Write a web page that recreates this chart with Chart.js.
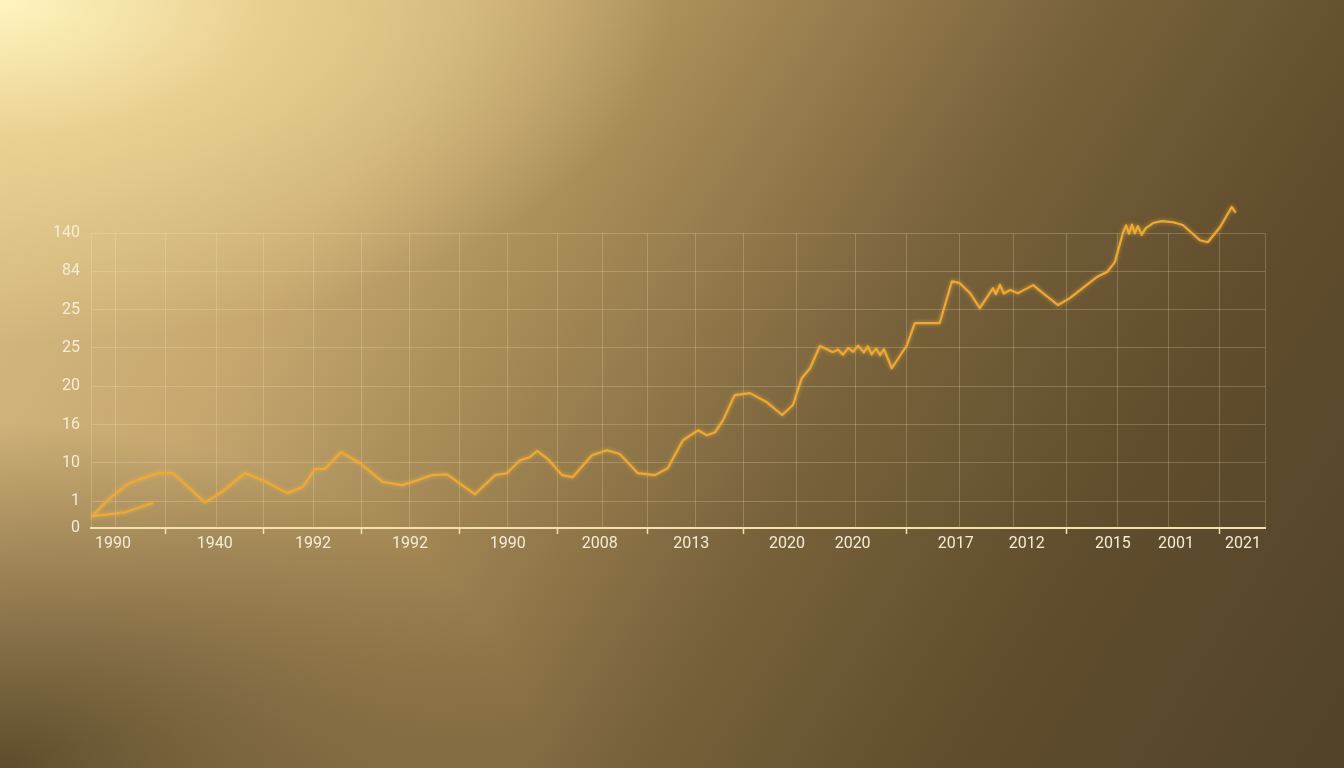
<!DOCTYPE html>
<html>
<head>
<meta charset="utf-8">
<script src="https://cdn.jsdelivr.net/npm/chart.js@4.4.1/dist/chart.umd.min.js"></script>
<style>
  html, body { margin: 0; padding: 0; overflow: hidden; }
  body {
    width: 1344px; height: 768px;
    background:
      radial-gradient(ellipse 50% 45% at 0% 0%, rgba(255,244,192,1) 0%, rgba(240,216,150,0.75) 40%, rgba(220,190,120,0) 100%),
      radial-gradient(ellipse 40% 45% at 0% 100%, rgba(68,53,28,0.8) 0%, rgba(68,53,28,0) 100%),
      linear-gradient(122deg, #dcc087 0%, #c6a86f 25%, #9f8452 43%, #78623b 60%, #604d2d 78%, #524329 100%);
  }
  #wrap { position: absolute; left: 0; top: 0; width: 1344px; height: 768px; }
</style>
</head>
<body>
<div id="wrap"><canvas id="chart"></canvas></div>
<script>
const TEXT_COLOR = "#f5ecd6";
const GRID_COLOR = "rgba(255, 238, 195, 0.22)";
const AXIS_COLOR = "#f3e2ae";
const LINE_COLOR = "#f3a82c";

// tick labels (as printed in the picture)
const yLabels = ['0', '1', '10', '16', '20', '25', '25', '84', '140'];
const yTickAt = [-0.7, 0, 1, 2, 3, 4, 5, 6, 7];
const xLabels = ['1990', '1940', '1992', '1992', '1990', '2008', '2013', '2020', '2020', '2017', '2012', '2015', '2001', '2021'];
const xLabelAt = [0.45, 2.53, 4.54, 6.52, 8.52, 10.4, 12.27, 14.23, 15.57, 17.68, 19.13, 20.89, 22.18, 23.55];
const xGridAt = [0.51, 1.53, 2.56, 3.52, 4.54, 5.54, 6.52, 7.54, 8.52, 9.53, 10.45, 11.37, 12.35, 13.33, 14.43, 15.62, 16.68, 17.76, 18.85, 19.94, 20.99, 22.02, 23.08, 24];
const xTickMarkAt = [1, 3, 5, 7, 9, 11, 13, 16, 19, 22];

// main series
const mainX = [0.02, 0.39, 0.74, 1.00, 1.35, 1.68, 2.33, 2.70, 3.15, 3.56, 4.01, 4.33, 4.58, 4.78, 5.11, 5.50, 5.97, 6.36, 6.68, 6.97, 7.28, 7.85, 8.26, 8.50, 8.77, 8.97, 9.12, 9.34, 9.63, 9.85, 10.24, 10.55, 10.81, 11.18, 11.53, 11.79, 12.10, 12.41, 12.59, 12.76, 12.92, 13.16, 13.47, 13.82, 14.13, 14.35, 14.53, 14.70, 14.90, 15.17, 15.27, 15.37, 15.48, 15.58, 15.68, 15.80, 15.88, 15.96, 16.05, 16.13, 16.21, 16.37, 16.68, 16.84, 17.11, 17.35, 17.60, 17.76, 17.97, 18.17, 18.44, 18.50, 18.58, 18.66, 18.79, 18.95, 19.26, 19.46, 19.77, 20.01, 20.56, 20.77, 20.93, 21.10, 21.16, 21.22, 21.28, 21.34, 21.40, 21.48, 21.56, 21.71, 21.89, 22.12, 22.32, 22.67, 22.83, 23.08, 23.32, 23.39];
const mainY = [-0.39, 0.08, 0.44, 0.57, 0.73, 0.73, -0.03, 0.26, 0.73, 0.52, 0.21, 0.37, 0.84, 0.84, 1.28, 0.99, 0.50, 0.42, 0.55, 0.68, 0.70, 0.18, 0.68, 0.73, 1.07, 1.15, 1.31, 1.10, 0.68, 0.63, 1.20, 1.33, 1.23, 0.73, 0.68, 0.86, 1.59, 1.85, 1.72, 1.80, 2.11, 2.77, 2.82, 2.58, 2.25, 2.51, 3.21, 3.47, 4.05, 3.89, 3.96, 3.82, 4.00, 3.90, 4.06, 3.88, 4.04, 3.83, 3.99, 3.81, 3.97, 3.47, 4.07, 4.65, 4.65, 4.65, 5.74, 5.69, 5.43, 5.04, 5.56, 5.40, 5.65, 5.42, 5.51, 5.43, 5.64, 5.43, 5.12, 5.30, 5.85, 5.98, 6.24, 7.02, 7.20, 6.98, 7.22, 6.99, 7.18, 6.95, 7.12, 7.26, 7.31, 7.28, 7.21, 6.81, 6.76, 7.15, 7.68, 7.55];

// short second series
const shortX = [0.02, 0.39, 0.70, 0.96, 1.25];
const shortY = [-0.39, -0.34, -0.29, -0.18, -0.05];

function toPoints(xs, ys) {
    return xs.map((x, i) => ({ x: x, y: ys[i] }));
}

function createDataSet(data) {
    return {
        data: data,
        borderColor: LINE_COLOR,
        borderWidth: 2.2,
        borderJoinStyle: 'round',
        borderCapStyle: 'round',
        pointRadius: 0,
        tension: 0,
        fill: false,
        clip: false
    };
}

const glow = {
    id: 'glow',
    beforeDatasetDraw(chart) {
        chart.ctx.save();
        chart.ctx.shadowColor = 'rgba(255, 200, 80, 0.6)';
        chart.ctx.shadowBlur = 4;
    },
    afterDatasetDraw(chart) {
        chart.ctx.restore();
    }
};

Chart.defaults.font.family = 'Roboto';

var ctx = document.getElementById('chart').getContext('2d');
new Chart(ctx, {
    type: 'line',
    data: {
        datasets: [
            createDataSet(toPoints(mainX, mainY)),
            createDataSet(toPoints(shortX, shortY))
        ]
    },
    plugins: [glow],
    options: {
        responsive: true,
        maintainAspectRatio: false,
        animation: false,
        layout: { padding: { left: 0, right: 79, top: 233, bottom: 200 } },
        plugins: { legend: { display: false }, tooltip: { enabled: false } },
        scales: {
            x: {
                type: 'linear',
                min: 0,
                max: 24,
                afterBuildTicks: (scale) => { scale.ticks = xGridAt.map(v => ({ value: v })); },
                afterFit: (scale) => { scale.height = 0; },
                ticks: { display: false },
                grid: {
                    color: GRID_COLOR,
                    lineWidth: 1,
                    drawTicks: true,
                    tickLength: 6,
                    tickWidth: 1.5,
                    tickColor: (c) => xTickMarkAt.includes(c.index) ? AXIS_COLOR : 'transparent'
                },
                border: { display: true, color: AXIS_COLOR, width: 2 }
            },
            xLabels: {
                type: 'linear',
                position: 'bottom',
                min: 0,
                max: 24,
                afterBuildTicks: (scale) => { scale.ticks = xLabelAt.map(v => ({ value: v })); },
                afterFit: (scale) => { scale.height = 40; },
                ticks: {
                    autoSkip: false,
                    maxRotation: 0,
                    padding: 6,
                    color: TEXT_COLOR,
                    font: { size: 16 },
                    callback: (v, i) => xLabels[i]
                },
                grid: { display: false, drawTicks: false },
                border: { display: false }
            },
            y: {
                type: 'linear',
                min: -0.7,
                max: 7,
                afterBuildTicks: (scale) => { scale.ticks = yTickAt.map(v => ({ value: v })); },
                afterFit: (scale) => { scale.width = 91; },
                ticks: {
                    autoSkip: false,
                    padding: 11,
                    color: TEXT_COLOR,
                    font: { size: 16 },
                    callback: (v, i) => yLabels[i]
                },
                grid: {
                    drawTicks: false,
                    color: (c) => c.index === 0 ? 'transparent' : GRID_COLOR
                },
                border: { display: true, color: GRID_COLOR, width: 1 }
            }
        }
    }
});
</script>
</body>
</html>
